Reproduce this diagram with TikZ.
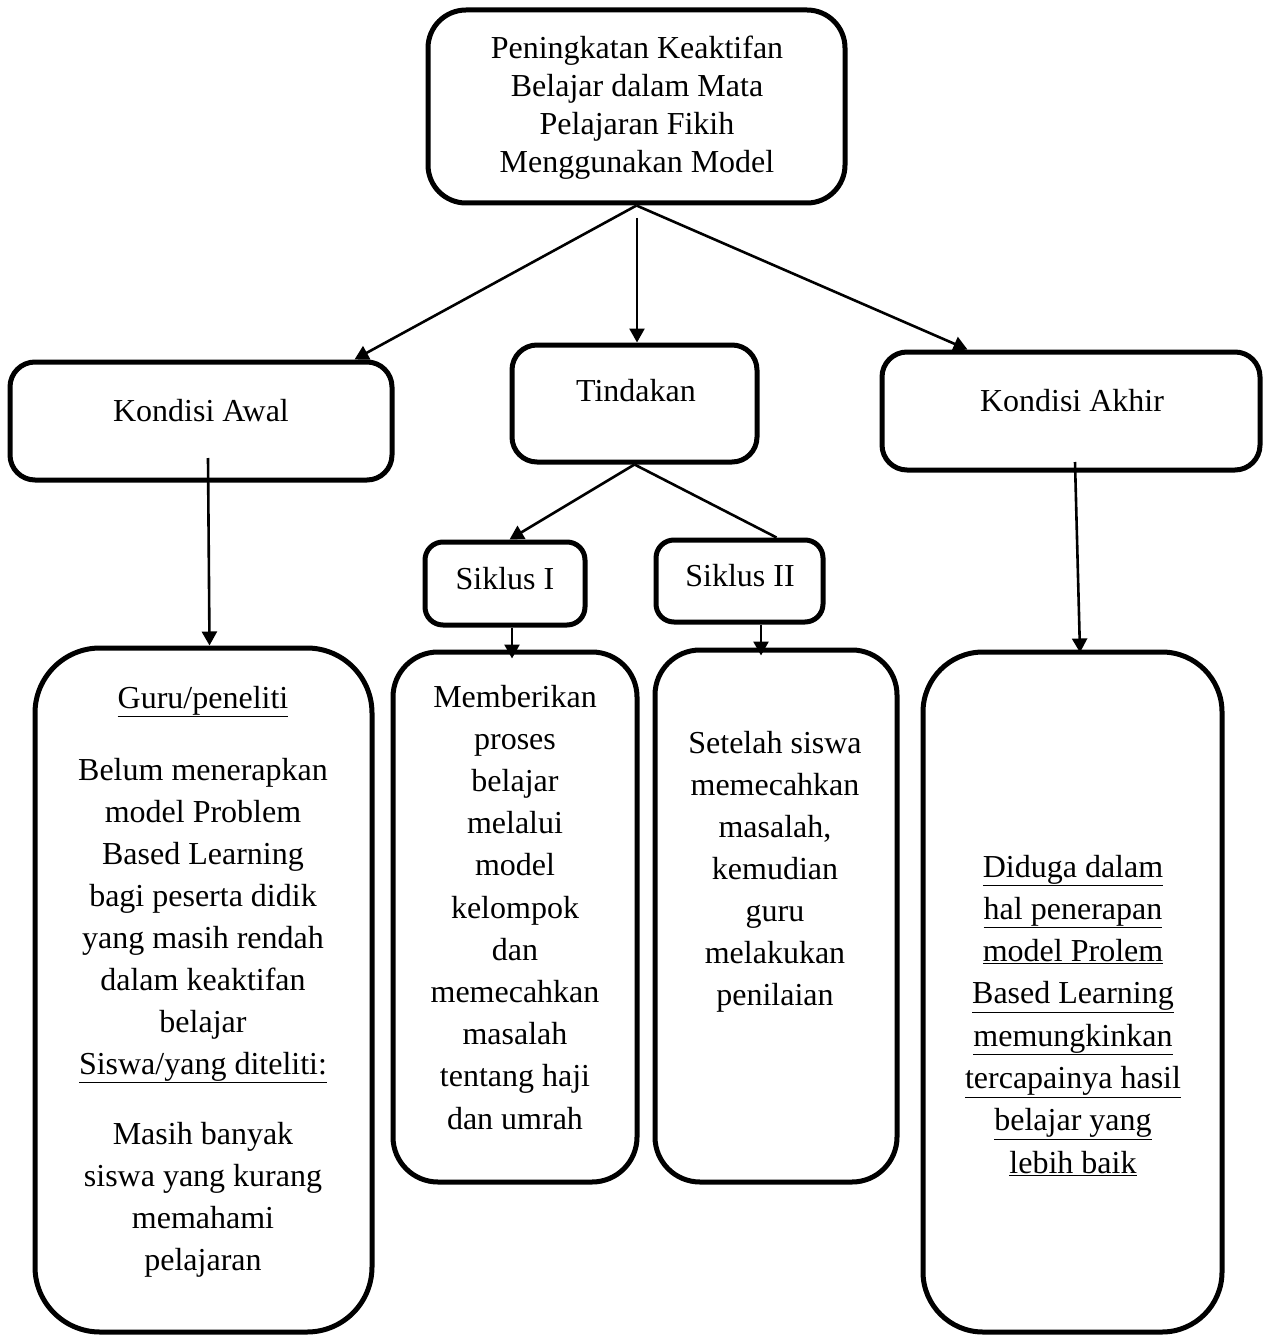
\documentclass[tikz,border=0pt]{standalone}
\usepackage{fontspec}
\setmainfont{Liberation Serif}
\usetikzlibrary{arrows.meta,calc}
\tikzset{
  box/.style={draw, line width=5pt, inner sep=0pt},
  conn/.style={line width=2.6pt},
  arr/.style={conn, -{Triangle[length=14pt,width=15pt]}},
  txt/.style={anchor=base, inner sep=0pt, font=\fontsize{32}{42}\selectfont}
}
\begin{document}
\begin{tikzpicture}[x=1pt,y=-1pt]
\useasboundingbox (0,0) rectangle (1262,1337);
% boxes
\node[box, rounded corners=38pt, minimum width=417pt, minimum height=193pt] (top) at (636.5,106.5) {};
\node[box, rounded corners=25pt, minimum width=382pt, minimum height=118pt] (ka) at (201,421) {};
\node[box, rounded corners=25pt, minimum width=245pt, minimum height=117pt] (tind) at (634.5,403.5) {};
\node[box, rounded corners=25pt, minimum width=378pt, minimum height=118pt] (kakh) at (1071,411) {};
\node[box, rounded corners=18pt, minimum width=160pt, minimum height=83pt] (s1) at (505,583.5) {};
\node[box, rounded corners=18pt, minimum width=167pt, minimum height=82pt] (s2) at (739.5,581) {};
\node[box, rounded corners=65pt, minimum width=337pt, minimum height=684pt] (guru) at (203.5,990) {};
\node[box, rounded corners=45pt, minimum width=244pt, minimum height=530pt] (memb) at (515,917) {};
\node[box, rounded corners=45pt, minimum width=242pt, minimum height=532pt] (sett) at (776,916) {};
\node[box, rounded corners=60pt, minimum width=299pt, minimum height=680pt] (dug) at (1072.5,992) {};
% texts
\foreach \t [count=\i] in {Peningkatan Keaktifan, Belajar dalam Mata, Pelajaran Fikih, Menggunakan Model}
  \node[txt] (topt\i) at (637,{59+38*(\i-1)}) {\t};
\node[txt] (kat) at (201,421) {Kondisi Awal};
\node[txt] (tindt) at (636,401) {Tindakan};
\node[txt] (kakht) at (1072,411) {Kondisi Akhir};
\node[txt] (s1t) at (505,589) {Siklus I};
\node[txt] (s2t) at (740,586) {Siklus II};
\node[txt] (gh1) at (203,708) {\underline{Guru/peneliti}};
\foreach \t [count=\i] in {Belum menerapkan, model Problem, Based Learning, bagi peserta didik, yang masih rendah, dalam keaktifan, belajar}
  \node[txt] (g\i) at (203,{780+42*(\i-1)}) {\t};
\node[txt] (gh2) at (203,1074) {\underline{Siswa/yang diteliti:}};
\foreach \t [count=\i] in {Masih banyak, siswa yang kurang, memahami, pelajaran}
  \node[txt] (gs\i) at (203,{1144+42*(\i-1)}) {\t};
\foreach \t [count=\i] in {Memberikan, proses, belajar, melalui, model, kelompok, dan, memecahkan, masalah, tentang haji, dan umrah}
  \node[txt] (m\i) at (515,{707+42.2*(\i-1)}) {\t};
\foreach \t [count=\i] in {Setelah siswa, memecahkan, {masalah,}, kemudian, guru, melakukan, penilaian}
  \node[txt] (st\i) at (775,{753+42*(\i-1)}) {\t};
\foreach \t [count=\i] in {Diduga dalam, hal penerapan, model Prolem, Based Learning, memungkinkan, tercapainya hasil, belajar yang, lebih baik}
  \node[txt] (d\i) at (1073,{877+42.3*(\i-1)}) {\underline{\t}};
% connectors
\draw[arr] (top.south) -- ($(ka.north west)+(347,0)$);
\coordinate (mid) at (637,218);
\draw[arr] (mid) -- (mid |- tind.north);
\draw[arr] (top.south) -- ($(kakh.north west)+(88,0)$);
\draw[arr] (tind.south) -- ($(s1.north west)+(87,0)$);
\draw[conn] (tind.south) -- ($(s2.north west)+(123,0)$);
\draw[arr] ($(s1.south west)+(89.5,0)$) -- ($(memb.north west)+(121.5,9)$);
\draw[arr] ($(s2.south west)+(107.5,0)$) -- ($(sett.north west)+(108.5,8)$);
\coordinate (kaa) at (208,458);
\draw[arr] (kaa) -- ($(guru.north west)+(177,0)$);
\coordinate (kakha) at (1075,462);
\draw[arr] (kakha) -- ($(dug.north west)+(159.5,3)$);
\end{tikzpicture}
\end{document}
